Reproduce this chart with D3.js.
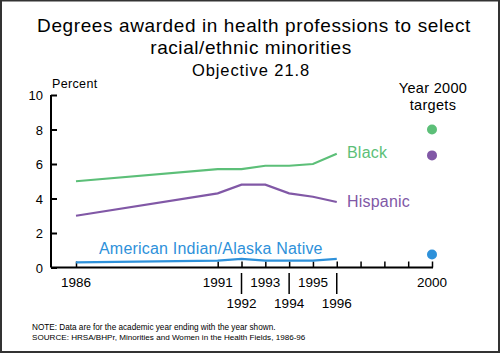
<!DOCTYPE html>
<html><head><meta charset="utf-8">
<script src="https://cdn.jsdelivr.net/npm/d3@7"></script>
<style>
html,body{margin:0;padding:0;background:#fff;}
svg{display:block;font-family:"Liberation Sans",Arial,Helvetica,sans-serif;}
</style></head>
<body>
<script>
const years = [1986, 1991, 1992, 1993, 1994, 1995, 1996];
const black = [5.0, 5.7, 5.7, 5.9, 5.9, 6.0, 6.6];
const hispanic = [3.0, 4.3, 4.8, 4.8, 4.3, 4.1, 3.8];
const aian = [0.3, 0.4, 0.5, 0.4, 0.4, 0.4, 0.5];
const targetYear = 2000;
const targets = [8.0, 6.5, 0.75];
const seriesNames = ["Black", "Hispanic", "American Indian/Alaska Native"];
const colors = ["#5cbf78", "#8158a6", "#2e91da"];
const yTicks = [0, 2, 4, 6, 8, 10];
const xTickYears = [1986, 1991, 1992, 1993, 1994, 1995, 1996, 1997, 1998, 1999, 2000];
const upperLabels = ["1986", "1991", "1993", "1995", "2000"];
const lowerLabels = ["1992", "1994", "1996"];

const W = 500, H = 353;
const svg = d3.select("body").append("svg").attr("width", W).attr("height", H);

// frame
svg.append("rect").attr("x", 1).attr("y", 0.5).attr("width", W - 2).attr("height", H - 1.5)
  .attr("fill", "none").attr("stroke", "#333").attr("stroke-width", 2);

const x = d3.scaleLinear().domain([1986, 1991, 2000]).range([76, 217.7, 432]);
const y = d3.scaleLinear().domain([0, 10]).range([267.5, 95]);
const axisX0 = 51;

// titles
svg.append("text").attr("x", 254).attr("y", 32).attr("text-anchor", "middle")
  .attr("font-size", 19).attr("letter-spacing", 0.6).text("Degrees awarded in health professions to select");
svg.append("text").attr("x", 251).attr("y", 54).attr("text-anchor", "middle")
  .attr("font-size", 19).attr("letter-spacing", 0.56).text("racial/ethnic minorities");
svg.append("text").attr("x", 251).attr("y", 76).attr("text-anchor", "middle")
  .attr("font-size", 16.5).attr("letter-spacing", 0.9).text("Objective 21.8");

svg.append("text").attr("x", 52).attr("y", 88).attr("font-size", 12.5)
  .attr("letter-spacing", 0.35).text("Percent");
svg.append("text").attr("x", 433).attr("y", 93).attr("text-anchor", "middle")
  .attr("font-size", 14.5).attr("letter-spacing", 0.3).text("Year 2000");
svg.append("text").attr("x", 433).attr("y", 110).attr("text-anchor", "middle")
  .attr("font-size", 14.5).attr("letter-spacing", 0.3).text("targets");

// y axis
const yAxis = d3.axisRight(y).tickValues(yTicks).tickSize(6).tickFormat("");
const gy = svg.append("g").attr("transform", `translate(${axisX0},0)`).call(yAxis);
gy.select(".domain").attr("d", `M0,${y(10)}V${y(0)}`).attr("stroke", "#000").attr("stroke-width", 2);
gy.selectAll(".tick line").attr("stroke", "#000").attr("stroke-width", 2);
svg.selectAll(".ylab").data(yTicks).join("text").attr("class", "ylab")
  .attr("x", 43).attr("y", d => y(d) + 5).attr("text-anchor", "end")
  .attr("font-size", 13).text(d => d);

// x axis
const xAxis = d3.axisTop(x).tickValues(xTickYears).tickSize(6).tickFormat("");
const gx = svg.append("g").attr("transform", `translate(0,${y(0)})`).call(xAxis);
gx.select(".domain").attr("d", `M${axisX0},0H${x(2000) + 1}`).attr("stroke", "#000").attr("stroke-width", 2);
gx.selectAll(".tick line").attr("stroke", "#000").attr("stroke-width", 1.5);

svg.selectAll(".xup").data(upperLabels).join("text").attr("class", "xup")
  .attr("x", d => x(+d)).attr("y", 287).attr("text-anchor", "middle")
  .attr("font-size", 13.5).text(d => d);
svg.selectAll(".xlow").data(lowerLabels).join("text").attr("class", "xlow")
  .attr("x", d => x(+d)).attr("y", 308).attr("text-anchor", "middle")
  .attr("font-size", 13.5).text(d => d);
svg.selectAll(".xsep").data(lowerLabels).join("line").attr("class", "xsep")
  .attr("x1", d => x(+d)).attr("x2", d => x(+d)).attr("y1", 273).attr("y2", 294)
  .attr("stroke", "#000").attr("stroke-width", 1.5);

// lines
const allSeries = [black, hispanic, aian];
const line = d3.line().x((d, i) => x(years[i])).y(d => y(d));
svg.selectAll(".series").data(allSeries).join("path").attr("class", "series")
  .attr("d", d => line(d)).attr("fill", "none")
  .attr("stroke", (d, i) => colors[i]).attr("stroke-width", 2.2);

// targets
svg.selectAll(".target").data(targets).join("circle").attr("class", "target")
  .attr("cx", x(targetYear)).attr("cy", d => y(d)).attr("r", 5)
  .attr("fill", (d, i) => colors[i]);

// series labels
svg.append("text").attr("x", 347).attr("y", 158).attr("font-size", 16).attr("letter-spacing", 0.2)
  .attr("fill", colors[0]).text(seriesNames[0]);
svg.append("text").attr("x", 347).attr("y", 207).attr("font-size", 16).attr("letter-spacing", 0.2)
  .attr("fill", colors[1]).text(seriesNames[1]);
svg.append("text").attr("x", 99).attr("y", 254).attr("font-size", 16).attr("letter-spacing", 0.2)
  .attr("fill", colors[2]).text(seriesNames[2]);

// notes
svg.append("text").attr("x", 32).attr("y", 330).attr("font-size", 8.2)
  .text("NOTE:  Data are for the academic year ending with the year shown.");
svg.append("text").attr("x", 32).attr("y", 340).attr("font-size", 8.1)
  .text("SOURCE: HRSA/BHPr, Minorities and Women in the Health Fields, 1986-96");
</script>
</body></html>
